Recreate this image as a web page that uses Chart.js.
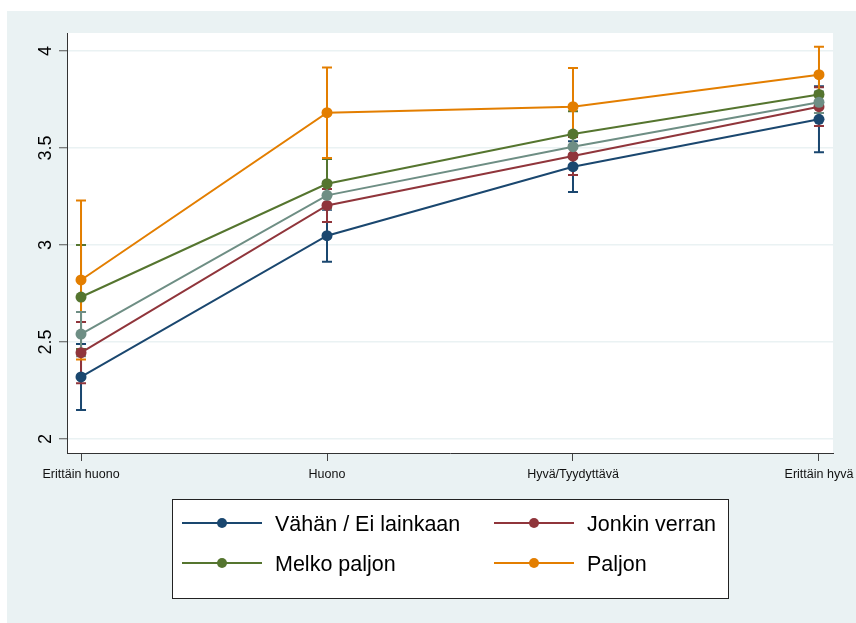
<!DOCTYPE html>
<html>
<head>
<meta charset="utf-8">
<script src="https://cdn.jsdelivr.net/npm/chart.js@4/dist/chart.umd.min.js"></script>
<style>
  html, body { margin: 0; padding: 0; background: #ffffff; }
  canvas { display: block; }
</style>
</head>
<body>
<canvas id="chart" width="856" height="623"></canvas>
<script>
// Category labels along the x axis
const categories = ['Erittäin huono', 'Huono', 'Hyvä/Tyydyttävä', 'Erittäin hyvä'];

// y axis tick values
const yTicks = [2, 2.5, 3, 3.5, 4];

// Predicted means and half-widths of the 95% confidence intervals
const vahan = [2.32, 3.048, 3.404, 3.648];
const vahanCI = [0.17, 0.134, 0.131, 0.17];

const jonkin = [2.445, 3.204, 3.459, 3.713];
const jonkinCI = [0.158, 0.085, 0.098, 0.10];

const melko = [2.732, 3.316, 3.572, 3.776];
const melkoCI = [0.268, 0.128, 0.118, 0.095];

const paljon = [2.82, 3.682, 3.713, 3.878];
const paljonCI = [0.41, 0.233, 0.20, 0.144];

// fifth group, plotted but left out of the legend
const muu = [2.541, 3.256, 3.507, 3.736];
const muuCI = [0.114, 0.07, 0.06, 0.055];

const FONT = '"Liberation Sans", Arial, Helvetica, sans-serif';
const BG = 'rgb(234,242,243)';

const groups = [
  { label: 'Vähän / Ei lainkaan', values: vahan, ci: vahanCI, color: 'rgb(26,71,111)' },
  { label: 'Jonkin verran', values: jonkin, ci: jonkinCI, color: 'rgb(144,53,59)' },
  { label: 'Melko paljon', values: melko, ci: melkoCI, color: 'rgb(85,117,47)' },
  { label: 'Paljon', values: paljon, ci: paljonCI, color: 'rgb(227,126,0)' },
  { label: '', values: muu, ci: muuCI, color: 'rgb(110,142,132)' }
];

const datasets = groups.map((g, k) => ({
  label: g.label,
  data: g.values.map((v, i) => ({ x: i, y: v })),
  ci: g.ci,
  borderColor: g.color,
  backgroundColor: g.color,
  borderWidth: 2,
  pointRadius: 5.5,
  pointHoverRadius: 5.5,
  pointBorderWidth: 0,
  pointBackgroundColor: g.color,
  tension: 0,
  order: groups.length - k   // later groups are drawn on top
}));

// Light frame behind the chart and the white plot region
const backgroundPlugin = {
  id: 'background',
  beforeDraw(chart) {
    const { ctx, width, height, chartArea: a } = chart;
    ctx.save();
    ctx.fillStyle = '#ffffff';
    ctx.fillRect(0, 0, width, height);
    ctx.fillStyle = BG;
    ctx.fillRect(7, 11, width - 7, height - 11);
    ctx.fillStyle = '#ffffff';
    ctx.fillRect(a.left, a.top, a.right - a.left, a.bottom - a.top);
    ctx.restore();
  }
};

// Capped confidence interval bars, drawn below the lines and markers
const errorBarPlugin = {
  id: 'errorBars',
  beforeDatasetsDraw(chart) {
    const { ctx } = chart;
    const xs = chart.scales.x, ys = chart.scales.y;
    const cap = 5;
    ctx.save();
    ctx.lineWidth = 2;
    ctx.lineCap = 'butt';
    chart.data.datasets.forEach(ds => {
      ctx.strokeStyle = ds.borderColor;
      ds.data.forEach((p, i) => {
        const x = xs.getPixelForValue(p.x);
        const lo = ys.getPixelForValue(p.y - ds.ci[i]);
        const hi = ys.getPixelForValue(p.y + ds.ci[i]);
        ctx.beginPath();
        ctx.moveTo(x, lo); ctx.lineTo(x, hi);
        ctx.moveTo(x - cap, lo); ctx.lineTo(x + cap, lo);
        ctx.moveTo(x - cap, hi); ctx.lineTo(x + cap, hi);
        ctx.stroke();
      });
    });
    ctx.restore();
  }
};

// Tick labels (rotated on the y axis) and the boxed two-column legend
const labelsPlugin = {
  id: 'labels',
  afterDraw(chart) {
    const { ctx } = chart;
    const xs = chart.scales.x, ys = chart.scales.y;
    ctx.save();
    ctx.fillStyle = '#000000';

    // y tick labels, reading bottom to top
    ctx.font = '18px ' + FONT;
    ctx.textAlign = 'center';
    ctx.textBaseline = 'alphabetic';
    yTicks.forEach(v => {
      const y = ys.getPixelForValue(v);
      ctx.save();
      ctx.translate(xs.left - 16.5, y);
      ctx.rotate(-Math.PI / 2);
      ctx.fillText(String(v), 0, 0);
      ctx.restore();
    });

    // x tick labels
    ctx.font = '12.5px ' + FONT;
    ctx.fillStyle = '#111111';
    categories.forEach((c, i) => {
      ctx.fillText(c, xs.getPixelForValue(i), ys.bottom + 24.5);
    });

    // legend box
    const box = { left: 172.5, top: 499.5, right: 728.5, bottom: 598.5 };
    ctx.fillStyle = '#ffffff';
    ctx.fillRect(box.left, box.top, box.right - box.left, box.bottom - box.top);
    ctx.strokeStyle = '#222222';
    ctx.lineWidth = 1;
    ctx.strokeRect(box.left, box.top, box.right - box.left, box.bottom - box.top);

    const colX = [182, 494];
    const rowY = [523, 563];
    ctx.font = '21.5px ' + FONT;
    ctx.textAlign = 'left';
    chart.data.datasets.filter(ds => ds.label).forEach((ds, k) => {
      const x0 = colX[k % 2];
      const y0 = rowY[Math.floor(k / 2)];
      ctx.strokeStyle = ds.borderColor;
      ctx.lineWidth = 2;
      ctx.beginPath();
      ctx.moveTo(x0, y0); ctx.lineTo(x0 + 80, y0);
      ctx.stroke();
      ctx.fillStyle = ds.borderColor;
      ctx.beginPath();
      ctx.arc(x0 + 40, y0, 5, 0, Math.PI * 2);
      ctx.fill();
      ctx.fillStyle = '#000000';
      ctx.fillText(ds.label, x0 + 93, y0 + 7.8);
    });
    ctx.restore();
  }
};

new Chart(document.getElementById('chart'), {
  type: 'line',
  data: { datasets },
  options: {
    responsive: false,
    devicePixelRatio: 1,
    animation: false,
    events: [],
    layout: { padding: { left: 67, top: 33, right: 23, bottom: 170 } },
    plugins: {
      legend: { display: false },
      tooltip: { enabled: false }
    },
    scales: {
      x: {
        type: 'linear',
        min: -0.057,
        max: 3.057,
        afterBuildTicks: s => { s.ticks = categories.map((_, i) => ({ value: i })); },
        afterFit: s => { s.height = 0; },
        ticks: { display: false },
        grid: { drawOnChartArea: false, drawTicks: true, tickLength: 8, tickColor: '#444444', tickWidth: 1 },
        border: { display: true, color: '#333333', width: 1 }
      },
      y: {
        type: 'linear',
        min: 1.928,
        max: 4.093,
        afterBuildTicks: s => { s.ticks = yTicks.map(v => ({ value: v })); },
        afterFit: s => { s.width = 0; },
        ticks: { display: false },
        grid: { color: BG, lineWidth: 1.5, drawTicks: true, tickLength: 8, tickColor: '#555555', tickWidth: 1 },
        border: { display: true, color: '#333333', width: 1 }
      }
    }
  },
  plugins: [backgroundPlugin, errorBarPlugin, labelsPlugin]
});
</script>
</body>
</html>
